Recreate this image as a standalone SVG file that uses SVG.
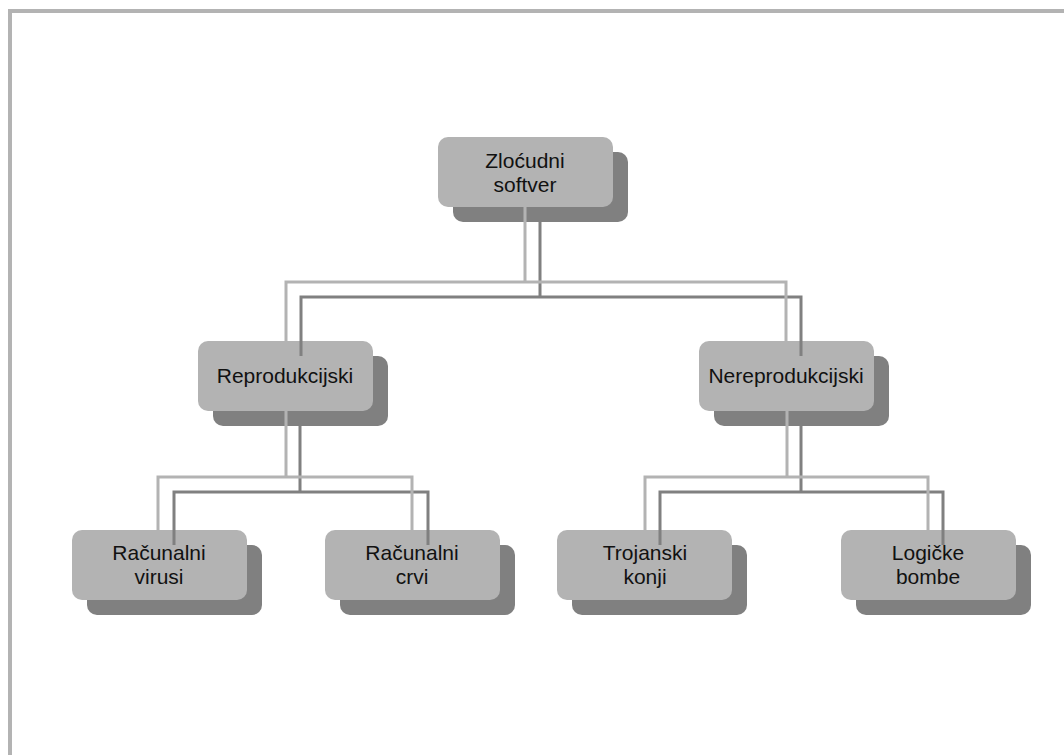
<svg xmlns="http://www.w3.org/2000/svg" width="1064" height="755" viewBox="0 0 1064 755">
<style>
.sh{fill:#808080}
.bx{fill:#b3b3b3}
.t{font-family:"Liberation Sans",Arial,sans-serif;font-size:21px;fill:#111;text-anchor:middle}
.cl{fill:none;stroke:#b3b3b3;stroke-width:3}
.cd{fill:none;stroke:#808080;stroke-width:3}
.tk{stroke:#c8c8c8;stroke-width:1}
</style>
<rect x="0" y="0" width="1064" height="755" fill="#fff"/>
<path d="M10,755 V11 H1064" fill="none" stroke="#b3b3b3" stroke-width="4"/>
<g id="n-zlocudni">
<rect class="sh" x="453" y="152" width="175" height="70" rx="10"/>
<rect class="bx" x="438" y="137" width="175" height="70" rx="10"/>
<text class="t" x="525" y="168">Zloćudni</text>
<text class="t" x="525" y="192">softver</text>
</g>
<g id="n-reprodukcijski">
<rect class="sh" x="213" y="356" width="175" height="70" rx="10"/>
<rect class="bx" x="198" y="341" width="175" height="70" rx="10"/>
<text class="t" x="285" y="383">Reprodukcijski</text>
</g>
<g id="n-nereprodukcijski">
<rect class="sh" x="714" y="356" width="175" height="70" rx="10"/>
<rect class="bx" x="699" y="341" width="175" height="70" rx="10"/>
<text class="t" x="786" y="383">Nereprodukcijski</text>
</g>
<g id="n-virusi">
<rect class="sh" x="87" y="545" width="175" height="70" rx="10"/>
<rect class="bx" x="72" y="530" width="175" height="70" rx="10"/>
<text class="t" x="159" y="560">Računalni</text>
<text class="t" x="159" y="584">virusi</text>
</g>
<g id="n-crvi">
<rect class="sh" x="340" y="545" width="175" height="70" rx="10"/>
<rect class="bx" x="325" y="530" width="175" height="70" rx="10"/>
<text class="t" x="412" y="560">Računalni</text>
<text class="t" x="412" y="584">crvi</text>
</g>
<g id="n-trojanski">
<rect class="sh" x="572" y="545" width="175" height="70" rx="10"/>
<rect class="bx" x="557" y="530" width="175" height="70" rx="10"/>
<text class="t" x="645" y="560">Trojanski</text>
<text class="t" x="645" y="584">konji</text>
</g>
<g id="n-logicke">
<rect class="sh" x="856" y="545" width="175" height="70" rx="10"/>
<rect class="bx" x="841" y="530" width="175" height="70" rx="10"/>
<text class="t" x="928" y="560">Logičke</text>
<text class="t" x="928" y="584">bombe</text>
</g>
<g id="connectors">
<path class="cd" d="M540,222 V297 M301,356 V297 H801 V356"/>
<path class="cl" d="M525,207 V282 M286,341 V282 H786 V341"/>
<path class="cd" d="M300,426 V492 M174,545 V492 H428 V545"/>
<path class="cl" d="M286,411 V477 M158,530 V477 H412 V530"/>
<path class="cd" d="M801,426 V492 M660,545 V492 H943 V545"/>
<path class="cl" d="M787,411 V477 M645,530 V477 H928 V530"/>
</g>
</svg>
